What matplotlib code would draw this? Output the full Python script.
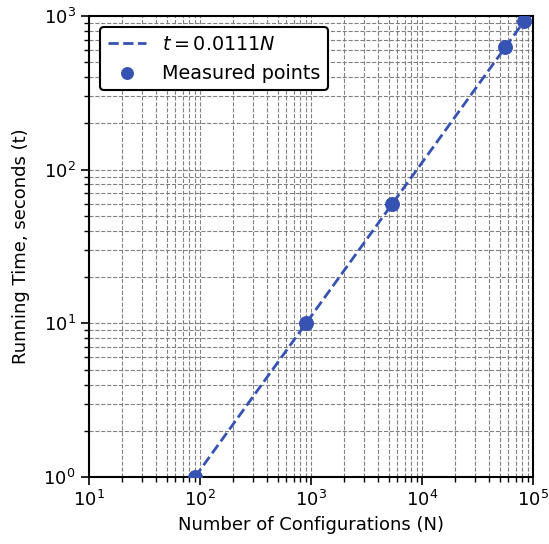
import numpy as np
import matplotlib
matplotlib.use('Agg')
import matplotlib.pyplot as plt

# measured running times
n_points = [90, 900, 5400, 56000, 83000]
t_points = [1.0, 10.0, 60.0, 622.0, 918.0]

# fitted line t = 0.0111 N
coef = 0.0111
line_n = np.array([90, 90000])

blue = '#3652b3'

fig = plt.figure(figsize=(5.49, 5.44), dpi=100)
ax = fig.add_axes([0.162, 0.123, 0.809, 0.848])

ax.plot(line_n, coef * line_n, '--', color=blue, lw=2, label=r'$t = 0.0111N$', zorder=3)
ax.scatter(n_points, t_points, s=95, color=blue, label='Measured points', zorder=4)

ax.set_xscale('log')
ax.set_yscale('log')
ax.set_xlim(10, 1e5)
ax.set_ylim(1, 1e3)

ax.grid(True, which='both', linestyle='--', color='#808080', linewidth=0.8)
ax.tick_params(which='major', length=6, width=1.2, labelsize=13)
ax.tick_params(which='minor', length=3.5, width=1)
for sp in ax.spines.values():
    sp.set_linewidth(1.5)

ax.set_xlabel('Number of Configurations (N)', fontsize=13)
ax.set_ylabel('Running Time, seconds (t)', fontsize=13, labelpad=10)

leg = ax.legend(loc='upper left', fontsize=13.8, framealpha=1, markerscale=0.85,
                borderaxespad=0.6)
leg.get_frame().set_edgecolor('black')
leg.get_frame().set_linewidth(1.5)

fig.savefig('out.png', dpi=100)
